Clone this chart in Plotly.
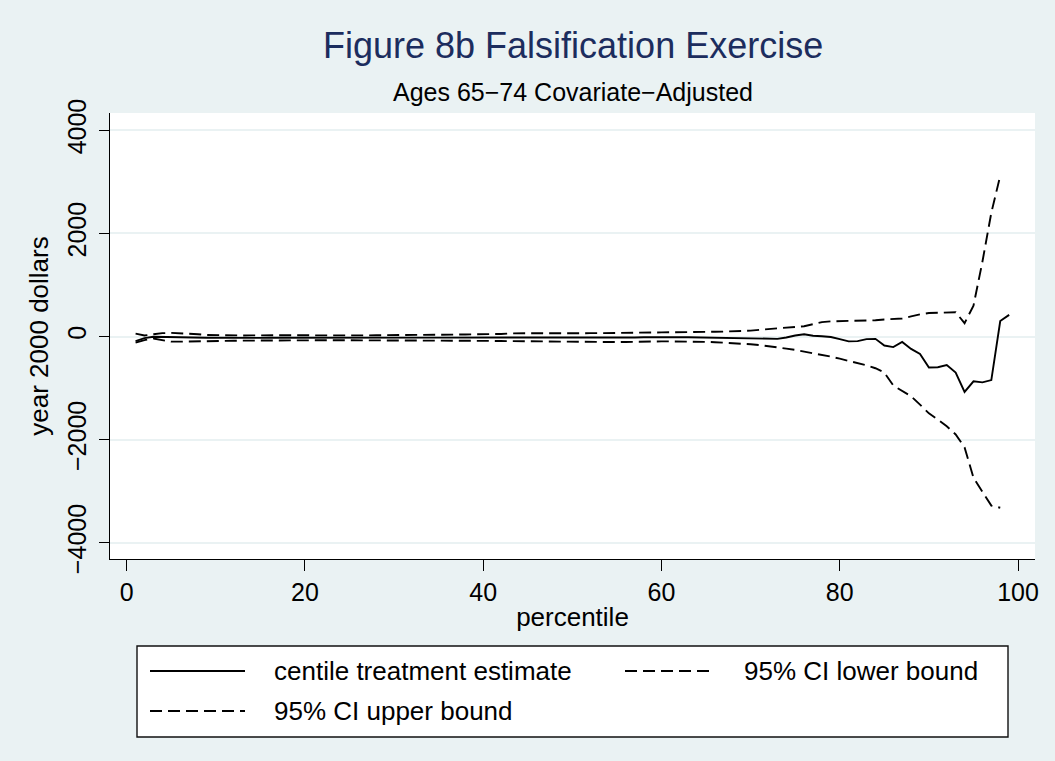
import plotly.graph_objects as go

# Percentiles of the outcome distribution
percentile = list(range(1, 100))

# Centile treatment estimate (year 2000 dollars), percentiles 1-99
estimate = [
    -90, -30, -5, -10, -15, -20, -20, -22, -25, -25,
    -28, -30, -30, -28, -26, -25, -24, -24, -25, -25,
    -26, -27, -28, -28, -28, -27, -26, -25, -25, -24,
    -23, -22, -22, -22, -22, -21, -20, -20, -20, -20,
    -20, -20, -18, -15, -12, -10, -10, -12, -15, -18,
    -20, -22, -24, -25, -25, -22, -18, -15, -12, -10,
    -10, -12, -15, -18, -20, -22, -25, -30, -35, -40,
    -44, -45, -45, -20, 20, 45, 15, 5, -10, -50,
    -95, -90, -50, -45, -175, -205, -105, -240, -340, -600,
    -595, -555, -700, -1075, -870, -890, -845, 300, 420,
]

# 95% confidence bounds, percentiles 1-98
ci_lower = [
    -120, -70, -40, -75, -100, -100, -95, -90, -88, -85,
    -85, -82, -80, -78, -75, -72, -70, -70, -70, -70,
    -70, -72, -72, -72, -72, -72, -72, -72, -75, -75,
    -75, -75, -75, -75, -75, -78, -80, -80, -80, -82,
    -85, -88, -90, -92, -95, -98, -100, -102, -105, -105,
    -108, -110, -110, -110, -108, -105, -100, -98, -95, -95,
    -95, -95, -98, -100, -105, -110, -118, -125, -135, -150,
    -165, -185, -210, -235, -260, -290, -320, -355, -390, -430,
    -470, -510, -560, -615, -700, -950, -1060, -1160, -1320, -1490,
    -1610, -1740, -1900, -2150, -2740, -3000, -3280, -3320,
]
ci_upper = [
    55, 20, 45, 65, 70, 65, 60, 45, 30, 25,
    20, 20, 20, 22, 25, 25, 25, 25, 25, 25,
    22, 20, 20, 20, 20, 20, 22, 25, 25, 25,
    28, 30, 30, 32, 35, 35, 38, 40, 40, 42,
    45, 50, 60, 65, 65, 65, 62, 60, 60, 60,
    62, 65, 65, 65, 68, 70, 72, 75, 78, 80,
    80, 82, 85, 88, 90, 92, 95, 98, 105, 115,
    130, 145, 160, 170, 180, 200, 240, 280, 295, 300,
    300, 302, 305, 315, 330, 340, 350, 390, 430, 455,
    462, 460, 470, 258, 600, 1450, 2400, 3120,
]

x_ticks = [0, 20, 40, 60, 80, 100]
y_ticks = [-4000, -2000, 0, 2000, 4000]

series_names = ["centile treatment estimate", "95% CI lower bound", "95% CI upper bound"]

BG = "#EAF2F3"
FONT = "Liberation Sans, Arial, Helvetica, sans-serif"
DASH = "12px,6px"
LW = 1.9

W, H = 1055, 761
L, R, T, B = 110, 20, 113, 202
PW, PH = W - L - R, H - T - B


def px(x):
    return (x - L) / PW


def py(y):
    return (H - B - y) / PH


fig = go.Figure()
fig.add_trace(go.Scatter(x=percentile, y=estimate, mode="lines", name=series_names[0],
                         line=dict(color="black", width=LW), showlegend=False))
fig.add_trace(go.Scatter(x=percentile[:len(ci_lower)], y=ci_lower, mode="lines", name=series_names[1],
                         line=dict(color="black", width=LW, dash=DASH), showlegend=False))
fig.add_trace(go.Scatter(x=percentile[:len(ci_upper)], y=ci_upper, mode="lines", name=series_names[2],
                         line=dict(color="black", width=LW, dash=DASH), showlegend=False))

shapes = []
annotations = []

# Titles, centred over the plot region
annotations.append(dict(text="Figure 8b Falsification Exercise", x=0.5, y=py(45),
                        xref="paper", yref="paper", showarrow=False, xanchor="center", yanchor="middle",
                        font=dict(family=FONT, size=36, color="#1c2d5e")))
annotations.append(dict(text="Ages 65\u221274 Covariate\u2212Adjusted", x=0.5, y=py(92),
                        xref="paper", yref="paper", showarrow=False, xanchor="center", yanchor="middle",
                        font=dict(family=FONT, size=25, color="black")))

# Legend box with line keys
shapes.append(dict(type="rect", xref="paper", yref="paper", x0=px(137), x1=px(1008), y0=py(646), y1=py(737),
                   fillcolor="white", line=dict(color="#111111", width=1.4), layer="above"))
legend_rows = [
    (series_names[0], None, 150, 245, 272, 671),
    (series_names[1], DASH, 625, 715, 742, 671),
    (series_names[2], DASH, 150, 245, 272, 711),
]
for name, dash, x0, x1, tx, ty in legend_rows:
    line = dict(color="black", width=LW)
    if dash:
        line["dash"] = dash
    shapes.append(dict(type="line", xref="paper", yref="paper", x0=px(x0), x1=px(x1),
                       y0=py(ty), y1=py(ty), line=line, layer="above"))
    annotations.append(dict(text=name, x=px(tx), y=py(ty), xref="paper", yref="paper",
                            showarrow=False, xanchor="left", yanchor="middle",
                            font=dict(family=FONT, size=26, color="black")))

fig.update_layout(
    width=W, height=H,
    margin=dict(l=L, r=R, t=T, b=B, pad=0),
    paper_bgcolor=BG, plot_bgcolor="white",
    font=dict(family=FONT, size=25, color="black"),
    showlegend=False,
    shapes=shapes, annotations=annotations,
    xaxis=dict(
        range=[-1.87, 101.9], tickvals=x_ticks, showgrid=False, zeroline=False,
        showline=True, linecolor="black", linewidth=1.3, mirror=False,
        ticks="outside", ticklen=11, tickwidth=1.3, tickcolor="black",
        tickfont=dict(family=FONT, size=25, color="black"),
        title=dict(text="percentile", font=dict(family=FONT, size=26, color="black"), standoff=2),
    ),
    yaxis=dict(
        range=[-4315, 4335], tickvals=y_ticks, showgrid=True, gridcolor=BG, gridwidth=1.5,
        zeroline=False, showline=True, linecolor="black", linewidth=1.3,
        ticks="outside", ticklen=10, tickwidth=1.3, tickcolor="black", tickangle=-90,
        ticklabelstandoff=3,
        tickfont=dict(family=FONT, size=25, color="black"),
        title=dict(text="year 2000 dollars", font=dict(family=FONT, size=26, color="black"), standoff=6),
    ),
)

fig.write_html("out.html")
